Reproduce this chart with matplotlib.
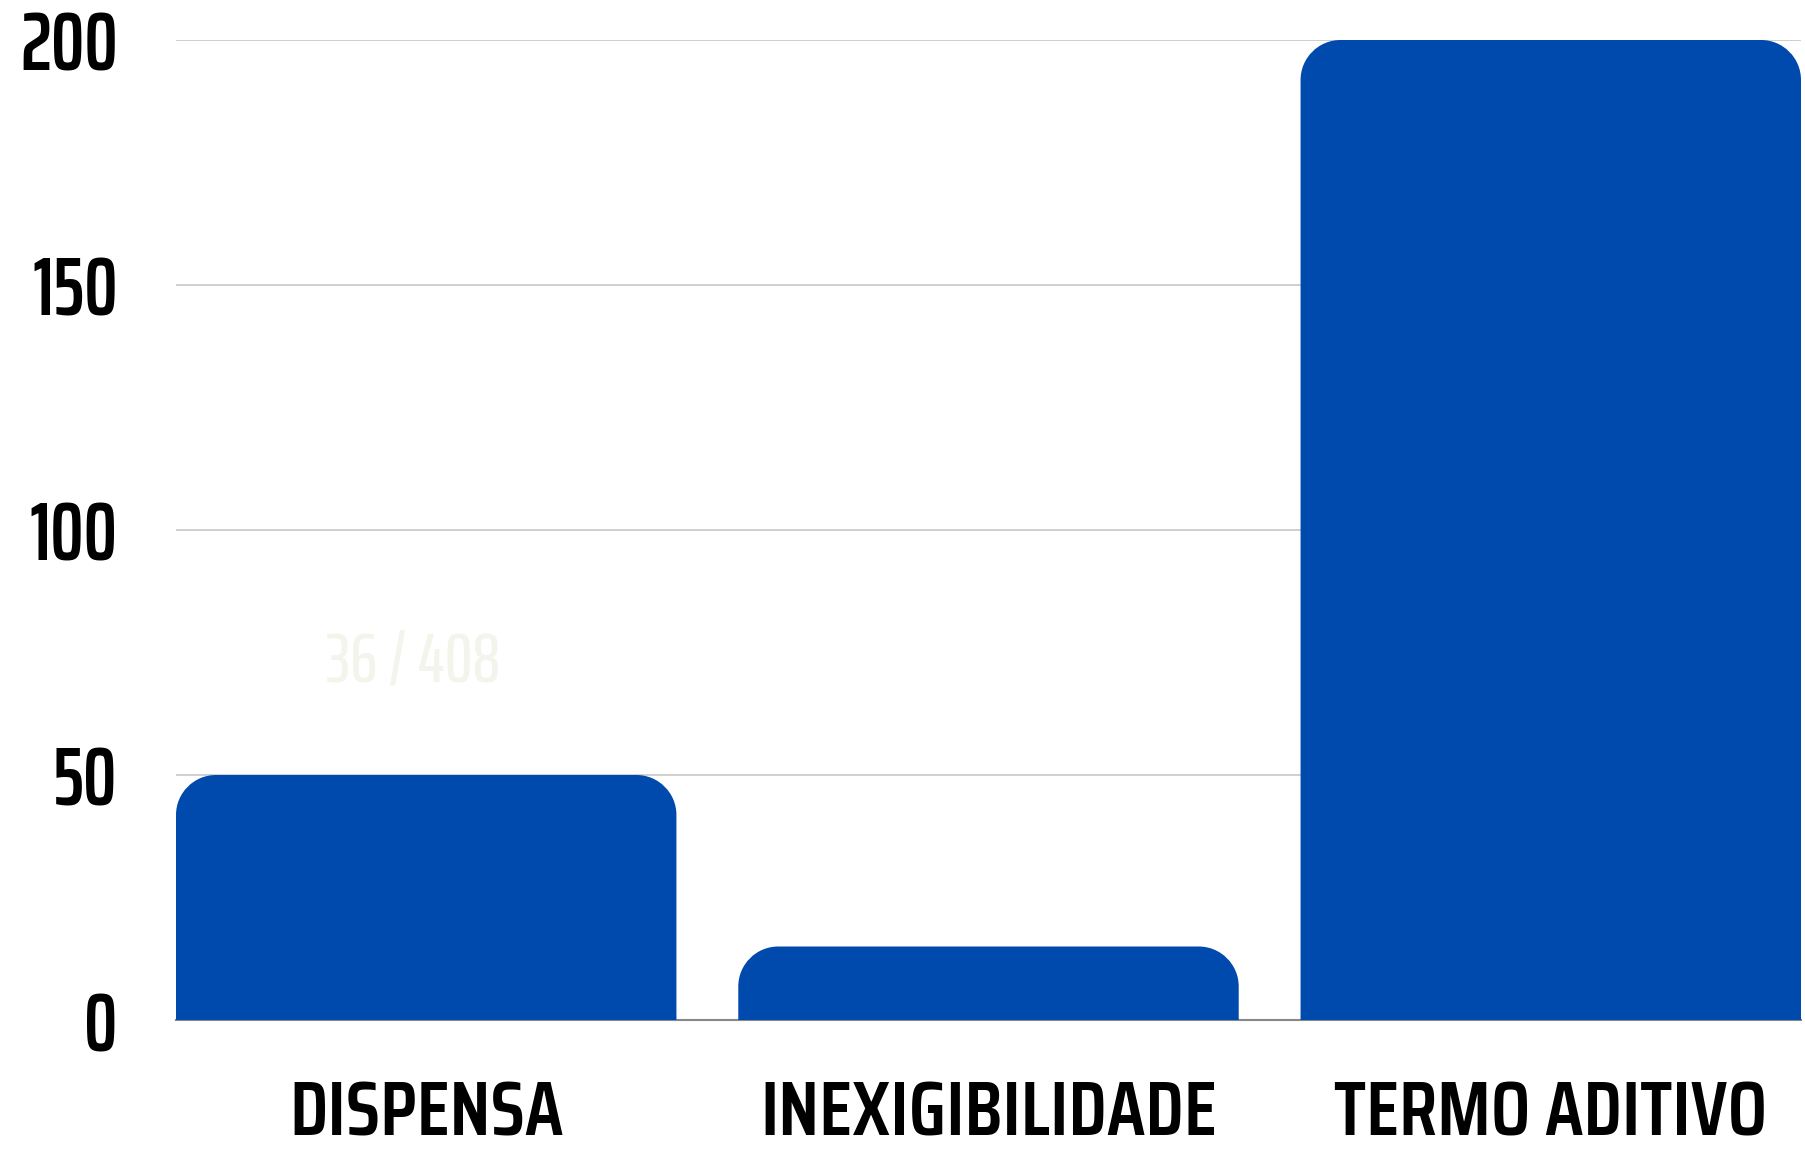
import matplotlib
matplotlib.use("Agg")
import matplotlib.pyplot as plt
from matplotlib.path import Path
from matplotlib.patches import PathPatch

categories = ["DISPENSA", "INEXIGIBILIDADE", "TERMO ADITIVO"]
values = [50, 15, 200]
yticks = [0, 50, 100, 150, 200]
watermark = "36 / 408"

BAR = "#004AAD"
FONT = ["Saira ExtraCondensed", "DejaVu Sans"]
FONT_X = ["Saira Condensed", "Saira ExtraCondensed", "DejaVu Sans"]

W, H, DPI = 1805, 1156, 100
fig = plt.figure(figsize=(W / DPI, H / DPI), dpi=DPI)
ax = fig.add_axes([176 / W, 1 - 1020 / H, (1801 - 176) / W, (1020 - 40) / H])

width = 0.89
bars = ax.bar(range(len(categories)), values, width=width, color=BAR, zorder=3)
ax.set_xlim(-width / 2, len(categories) - 1 + width / 2)
ax.set_ylim(0, 200)

ax.set_yticks(yticks)
ax.set_yticklabels([str(t) for t in yticks], fontsize=60, fontweight="semibold", family=FONT)
ax.set_xticks(range(len(categories)))
ax.set_xticklabels(categories, fontsize=56, fontweight="semibold", family=FONT_X)
ax.tick_params(axis="y", length=0, pad=42)
ax.tick_params(axis="x", length=0, pad=42)
ax.grid(axis="y", color="#cccccc", linewidth=1.3, zorder=0)
ax.set_axisbelow(True)
for s in ["top", "right", "left"]:
    ax.spines[s].set_visible(False)
ax.spines["bottom"].set_color("#888888")
ax.spines["bottom"].set_linewidth(1.5)
ax.spines["bottom"].set_zorder(2)

# rounded top corners
fig.canvas.draw()
ax_w_px = ax.get_window_extent().width
ax_h_px = ax.get_window_extent().height
x0, x1 = ax.get_xlim()
y0, y1 = ax.get_ylim()
r_px = 40
rx = r_px * (x1 - x0) / ax_w_px
ry = r_px * (y1 - y0) / ax_h_px
k = 0.5523
for b in bars:
    L, B = b.get_x(), b.get_y()
    R, T = L + b.get_width(), B + b.get_height()
    verts = [
        (L, B), (L, T - ry),
        (L, T - ry + k * ry), (L + rx - k * rx, T), (L + rx, T),
        (R - rx, T),
        (R - rx + k * rx, T), (R, T - ry + k * ry), (R, T - ry),
        (R, B), (L, B),
    ]
    codes = [Path.MOVETO, Path.LINETO,
             Path.CURVE4, Path.CURVE4, Path.CURVE4,
             Path.LINETO,
             Path.CURVE4, Path.CURVE4, Path.CURVE4,
             Path.LINETO, Path.CLOSEPOLY]
    ax.add_patch(PathPatch(Path(verts, codes), facecolor=BAR, edgecolor="none", zorder=3))
    b.set_visible(False)

fig.text(413 / W, 1 - 662 / H, watermark, fontsize=50, color="#f3f4ec",
         family=FONT, fontweight="medium", ha="center", va="center")

fig.savefig("out.png", dpi=DPI, facecolor="white")
